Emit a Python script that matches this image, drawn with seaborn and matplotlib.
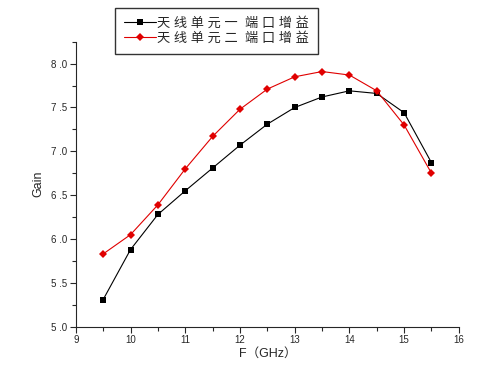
import pandas as pd
import seaborn as sns
import matplotlib.pyplot as plt

# frequency points (GHz)
freq = [9.5, 10, 10.5, 11, 11.5, 12, 12.5, 13, 13.5, 14, 14.5, 15, 15.5]
# gain of port 1 / port 2
gain_1 = [5.31, 5.88, 6.28, 6.55, 6.81, 7.07, 7.31, 7.50, 7.62, 7.69, 7.66, 7.44, 6.87]
gain_2 = [5.83, 6.05, 6.39, 6.80, 7.17, 7.48, 7.71, 7.85, 7.91, 7.87, 7.69, 7.30, 6.75]
labels = ['天 线 单 元 一  端 口 增 益', '天 线 单 元 二  端 口 增 益']
x_ticks = [9, 10, 11, 12, 13, 14, 15, 16]
y_ticks = [5.0, 5.5, 6.0, 6.5, 7.0, 7.5, 8.0]

df = pd.DataFrame({
    'F': freq * 2,
    'Gain': gain_1 + gain_2,
    'series': [labels[0]] * len(freq) + [labels[1]] * len(freq),
})

sns.set_style('ticks')
plt.rcParams['font.family'] = ['Liberation Sans', 'Noto Sans CJK SC', 'DejaVu Sans']

fig = plt.figure(figsize=(4.83, 3.81), dpi=100)
ax = fig.add_axes([0.157, 0.1425, 0.793, 0.748])

sns.lineplot(data=df, x='F', y='Gain', hue='series', style='series',
             palette=['black', '#e00000'], markers=['s', 'D'], dashes=False,
             markersize=4.5, markeredgewidth=0, linewidth=0.8, ax=ax)

ax.set_xlim(9, 16)
ax.set_ylim(5.0, 8.25)
ax.set_xticks(x_ticks)
ax.set_xticklabels([str(t) for t in x_ticks])
ax.set_yticks(y_ticks)
ax.set_yticklabels([f'{t:.1f}'.replace('.', ' .') for t in y_ticks])
ax.set_xticks([t + 0.5 for t in x_ticks[:-1]], minor=True)
ax.set_yticks([5.25, 5.75, 6.25, 6.75, 7.25, 7.75, 8.25], minor=True)
ax.tick_params(which='major', direction='out', length=4, width=0.8, labelsize=7, pad=2)
ax.tick_params(which='minor', direction='out', length=3, width=0.8)
sns.despine(ax=ax)
for s in ['left', 'bottom']:
    ax.spines[s].set_linewidth(0.8)

ax.set_xlabel('F（GHz）', fontsize=9, labelpad=2)
ax.set_ylabel('Gain', fontsize=9, labelpad=5)

leg = ax.legend(loc='upper left', bbox_to_anchor=(115 / 483, 1 - 8 / 381),
                bbox_transform=fig.transFigure, fontsize=9.5, frameon=True,
                fancybox=False, edgecolor='black', handlelength=2.4,
                handletextpad=0.1, borderpad=0.7, labelspacing=0.15,
                borderaxespad=0)
leg.get_frame().set_linewidth(1)

fig.savefig('out.png', dpi=100)
